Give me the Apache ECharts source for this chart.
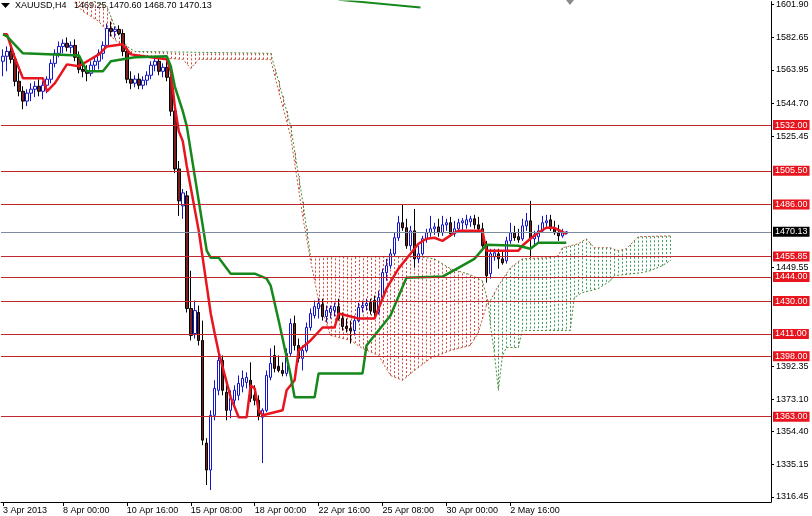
<!DOCTYPE html>
<html><head><meta charset="utf-8">
<script src="https://cdn.jsdelivr.net/npm/echarts@6.0.0/dist/echarts.min.js"></script>
<style>html,body{margin:0;padding:0;background:#fff}#c{width:812px;height:516px}</style>
</head><body><div id="c"></div>
<script>
// ---- data ----
const tickIndex = [0, 15, 31, 47, 63, 79, 95, 111, 127];
const tickText = ['3 Apr 2013','8 Apr 00:00','10 Apr 16:00','15 Apr 08:00','18 Apr 00:00','22 Apr 16:00','25 Apr 08:00','30 Apr 00:00','2 May 16:00'];
const priceTicks = [1601.90,1582.65,1563.95,1544.70,1525.45,1449.55,1392.35,1373.10,1354.40,1335.15,1316.45];
const levels = [1532.00,1505.50,1486.00,1455.85,1444.00,1430.00,1411.00,1398.00,1363.00];
const lastPrice = 1470.13;
const header = 'XAUUSD,H4   1469.25 1470.60 1468.70 1470.13';

// candles: [open, close, low, high], one per H4 bar starting 3 Apr 2013 12:00
const candles = [
[1569.0,1571.9,1560.3,1575.9],[1571.9,1574.7,1563.2,1577.6],[1574.7,1570.1,1567.8,1579.4],[1570.1,1557.4,1554.5,1573.6],
[1557.4,1551.6,1548.7,1563.2],[1551.6,1545.9,1541.2,1554.5],[1545.9,1550.5,1543.0,1552.8],[1550.5,1552.8,1545.9,1556.3],
[1552.8,1554.5,1548.2,1557.4],[1554.5,1551.6,1548.7,1558.6],[1551.6,1555.1,1547.0,1557.4],[1555.1,1558.6,1550.5,1560.3],
[1558.6,1567.8,1556.3,1570.1],[1567.8,1573.6,1565.5,1575.9],[1573.6,1577.6,1571.3,1580.5],[1577.6,1579.4,1573.6,1581.7],
[1579.4,1577.1,1574.7,1582.8],[1577.1,1578.2,1573.6,1580.5],[1578.2,1571.3,1569.0,1581.7],[1571.3,1564.3,1562.0,1574.7],
[1564.3,1563.2,1559.7,1567.8],[1563.2,1562.0,1557.4,1566.7],[1562.0,1566.7,1560.3,1569.0],[1566.7,1569.0,1563.2,1571.9],
[1569.0,1573.6,1564.3,1575.9],[1573.6,1578.2,1570.1,1580.5],[1578.2,1588.0,1577.1,1590.9],[1588.0,1586.3,1583.4,1592.1],
[1586.3,1587.5,1582.8,1589.2],[1587.5,1585.1,1584.0,1589.8],[1585.1,1574.7,1571.9,1587.5],[1574.7,1558.6,1556.3,1577.6],
[1558.6,1556.3,1552.8,1563.2],[1556.3,1558.6,1553.9,1560.9],[1558.6,1555.1,1552.8,1562.0],[1555.1,1558.0,1552.8,1560.3],
[1558.0,1560.9,1555.1,1563.2],[1560.9,1566.7,1558.6,1569.0],[1566.7,1569.0,1563.2,1571.3],[1569.0,1563.2,1560.9,1571.9],
[1563.2,1565.5,1559.7,1567.8],[1565.5,1559.7,1557.4,1569.0],[1559.7,1540.1,1537.2,1563.2],[1540.1,1506.6,1504.2,1545.9],
[1506.6,1488.1,1479.4,1511.2],[1485.2,1492.7,1477.7,1495.0],[1491.0,1425.7,1423.4,1493.8],[1425.7,1410.1,1407.2,1447.6],
[1411.2,1424.5,1408.3,1430.3],[1423.4,1407.2,1404.3,1427.4],[1407.2,1349.4,1346.5,1418.7],[1347.7,1332.1,1323.4,1350.6],
[1332.1,1363.8,1320.5,1366.7],[1363.8,1379.4,1360.9,1384.1],[1378.3,1395.6,1375.4,1401.4],[1395.6,1378.3,1375.4,1398.5],
[1377.1,1366.7,1360.9,1381.2],[1366.7,1373.7,1362.1,1378.3],[1372.5,1378.3,1369.6,1381.2],[1375.4,1382.3,1372.5,1386.9],
[1380.6,1385.2,1377.1,1389.8],[1382.9,1385.8,1379.4,1388.7],[1384.1,1373.7,1371.4,1394.5],[1375.4,1372.5,1369.6,1381.2],
[1372.5,1363.3,1360.9,1375.4],[1362.7,1366.7,1336.1,1367.9],[1366.7,1386.9,1365.6,1389.8],[1385.8,1393.9,1384.1,1402.6],
[1398.5,1391.0,1388.7,1404.3],[1392.2,1389.8,1388.7,1398.5],[1389.8,1388.1,1386.4,1394.5],[1388.1,1399.7,1386.4,1402.6],
[1399.7,1417.0,1397.9,1419.9],[1417.0,1404.3,1401.4,1421.6],[1404.3,1396.8,1394.5,1408.3],[1396.8,1401.4,1389.8,1404.3],
[1401.4,1414.7,1400.2,1417.6],[1414.7,1422.8,1412.9,1425.7],[1421.6,1426.8,1419.9,1430.3],[1425.7,1428.6,1419.9,1431.4],
[1428.0,1421.1,1418.7,1431.4],[1421.1,1424.5,1417.6,1427.4],[1423.4,1425.7,1419.9,1427.4],[1424.5,1426.8,1421.1,1429.1],
[1426.8,1419.9,1418.7,1431.4],[1419.9,1415.3,1412.9,1423.4],[1415.3,1414.1,1411.8,1419.9],[1414.1,1412.9,1405.4,1418.7],
[1412.9,1418.7,1410.1,1421.6],[1418.7,1426.3,1417.6,1429.1],[1426.3,1427.4,1423.4,1430.3],[1427.4,1428.6,1424.5,1431.4],
[1429.1,1424.5,1422.2,1431.4],[1430.3,1423.4,1421.1,1433.2],[1423.4,1432.0,1422.2,1436.1],[1432.0,1446.5,1430.3,1448.8],
[1446.5,1450.5,1441.8,1454.5],[1450.5,1457.4,1448.8,1460.3],[1457.4,1466.7,1455.7,1469.6],[1466.7,1475.4,1464.9,1479.4],
[1475.4,1472.5,1470.7,1486.3],[1472.5,1462.1,1460.3,1477.7],[1462.1,1470.7,1459.2,1473.6],[1470.7,1454.5,1449.3,1483.4],
[1454.5,1457.4,1452.2,1462.1],[1457.4,1466.1,1456.3,1467.8],[1466.1,1469.6,1463.8,1471.9],[1469.6,1471.9,1467.3,1479.4],
[1471.9,1473.0,1468.4,1475.4],[1473.0,1469.6,1467.3,1477.7],[1469.6,1474.2,1467.8,1479.4],[1474.2,1475.4,1470.7,1477.7],
[1475.4,1469.0,1467.3,1478.8],[1469.0,1471.9,1467.3,1476.5],[1471.9,1475.4,1469.6,1477.7],[1475.4,1476.5,1470.7,1478.2],
[1474.2,1477.1,1471.9,1480.0],[1475.9,1477.7,1473.0,1479.4],[1477.7,1474.2,1471.9,1480.0],[1474.2,1471.9,1470.7,1478.8],
[1471.9,1462.1,1460.9,1475.4],[1462.1,1444.7,1440.7,1464.9],[1445.9,1457.4,1443.0,1460.3],[1455.7,1458.0,1453.4,1460.3],
[1457.4,1454.5,1448.8,1460.3],[1454.5,1452.2,1451.1,1459.2],[1453.4,1464.9,1451.7,1467.3],[1464.9,1469.6,1463.2,1475.4],
[1469.6,1466.7,1464.9,1473.6],[1467.3,1465.5,1463.8,1471.9],[1466.1,1473.6,1464.9,1477.7],[1473.6,1476.5,1470.7,1481.1],
[1476.5,1466.1,1455.1,1488.1],[1466.1,1468.4,1462.1,1470.7],[1467.3,1470.7,1463.2,1474.2],[1470.7,1475.4,1469.6,1479.4],
[1475.4,1476.5,1473.0,1480.0],[1477.1,1471.9,1470.7,1480.0],[1471.9,1469.6,1468.4,1476.5],[1469.6,1467.8,1464.9,1474.2],
[1467.8,1469.6,1466.7,1471.9],[1469.25,1470.13,1468.70,1470.60]
];

// Ichimoku lines, read as [bar, price] break points
const tenkan = [[0,1584.6],[1,1584.6],[3,1570.7],[5,1559.1],[10,1559.1],[11,1551.6],[13,1556.3],[16,1567.2],[19,1566.1],[24,1573.0],[26,1577.6],[30,1578.8],[32,1573.0],[37,1571.3],[41,1570.1],[42,1563.2],[43,1543.0],[44,1528.5],[45,1522.7],[46,1508.3],[49,1470.7],[51,1439.0],[52,1422.8],[53,1411.2],[54,1400.2],[57,1374.2],[59,1362.7],[61,1362.7],[62,1381.2],[63,1379.4],[64,1366.7],[65,1363.8],[70,1366.7],[71,1378.3],[73,1384.1],[74,1401.4],[77,1407.2],[80,1414.7],[83,1414.7],[84,1422.8],[89,1419.9],[93,1419.9],[96,1437.2],[99,1448.8],[102,1457.4],[104,1463.2],[106,1466.1],[108,1466.7],[110,1464.9],[113,1469.6],[114,1470.7],[120,1470.7],[121,1459.2],[129,1459.2],[130,1462.1],[132,1466.1],[134,1469.6],[136,1472.5],[138,1472.5],[140,1470.1],[141,1469.0]];
const kijun = [[0,1584.6],[1,1583.4],[5,1573.6],[19,1572.4],[21,1563.2],[25,1563.2],[27,1569.0],[33,1571.3],[41,1571.9],[42,1566.1],[43,1554.5],[45,1540.1],[46,1531.4],[51,1459.2],[52,1455.1],[54,1455.1],[57,1445.9],[63,1445.9],[66,1443.0],[67,1439.0],[69,1418.7],[72,1387.0],[73,1374.2],[78,1374.2],[79,1388.1],[90,1388.1],[91,1404.3],[97,1421.6],[101,1443.6],[110,1444.2],[114,1449.3],[118,1454.5],[121,1462.6],[129,1462.1],[132,1460.3],[134,1463.8],[141,1463.8]];
const spanA = [[18,1603.0],[20,1597.9],[24,1592.1],[27,1583.4],[30,1577.6],[33,1571.9],[45,1570.1],[47,1564.9],[49,1570.1],[67,1570.1],[69,1551.6],[72,1525.6],[75,1479.4],[77,1453.4],[79,1430.3],[82,1410.1],[87,1407.2],[90,1402.6],[94,1398.5],[97,1386.9],[100,1384.1],[103,1389.8],[107,1396.8],[112,1401.4],[117,1404.3],[119,1411.8],[121,1427.4],[121.5,1429.0],[122,1430.3],[124,1439.0],[127,1449.3],[130,1454.5],[136,1455.1],[139,1456.3],[140,1460.9],[144,1463.2],[146,1466.1],[148,1460.9],[152,1460.9],[154,1459.2],[156,1460.3],[159,1467.3],[167,1467.8]];
const spanB = [[18,1612.0],[20,1606.5],[26,1600.7],[28,1589.2],[31,1577.6],[33,1574.7],[67,1573.6],[69,1557.4],[72,1531.4],[75,1488.1],[77,1455.7],[104,1455.7],[108,1454.5],[112,1448.8],[117,1445.3],[120,1441.8],[121.5,1429.0],[122,1415.9],[123,1400.0],[124,1378.3],[125,1398.0],[126,1403.1],[129,1403.1],[130,1413.0],[142,1413.0],[143,1432.0],[145,1434.9],[149,1437.2],[152,1441.8],[153,1444.7],[160,1446.5],[162,1447.6],[165,1450.5],[167,1453.4]];
const topGreen = [[84,1604.6],[104.5,1600.2]];

// ---- chart ----
const FONT = '"Liberation Sans", Arial, sans-serif';
const labelMap = {}; tickIndex.forEach((v,k)=>labelMap[v]=tickText[k]);
// value of a drawn polyline at bar x (used only to place the hatching between the two span lines)
function along(line, x){
  for (let k=1;k<line.length;k++){
    const p=line[k-1], q=line[k];
    if (x>=p[0] && x<=q[0]) return p[1]+(q[1]-p[1])*(x-p[0])/(q[0]-p[0]);
  }
  return null;
}
const candleData = candles.map((d,i)=>[i, d[0], d[1], d[2], d[3]]);
const hatchBars = []; for (let i=spanA[0][0]; i<=spanA[spanA.length-1][0]; i++) hatchBars.push([i]);
const chart = echarts.init(document.getElementById('c'));
const levelLines = levels.map(v=>({yAxis:v, lineStyle:{color:'#c0282d',width:1,type:'solid'},
  label:{backgroundColor:'#e8141e', color:'#fff'}}));
levelLines.push({yAxis:lastPrice, lineStyle:{color:'#7d8ca0',width:1,type:'solid'},
  label:{backgroundColor:'#000', color:'#fff'}});
chart.setOption({
  animation:false, backgroundColor:'#fff',
  grid:{left:0,right:41,top:0,bottom:14},
  xAxis:{type:'value',min:-0.5,max:192.25,splitLine:{show:false},
    axisLine:{show:true,onZero:false,lineStyle:{color:'#000',width:1}},
    axisTick:{show:true,customValues:tickIndex,length:4,lineStyle:{color:'#000'}},
    axisLabel:{customValues:tickIndex,formatter:v=>labelMap[v]||'',align:'left',
      fontSize:9,fontFamily:FONT,color:'#000',margin:4}},
  yAxis:{type:'value',position:'right',min:1313.56,max:1603.63,splitLine:{show:false},
    axisLine:{show:true,onZero:false,lineStyle:{color:'#000',width:1}},
    axisTick:{show:true,customValues:priceTicks,length:3,lineStyle:{color:'#000'}},
    axisLabel:{customValues:priceTicks,formatter:v=>v.toFixed(2),fontSize:9,fontFamily:FONT,color:'#000',margin:5}},
  graphic:[
    {type:'polygon',z:0,shape:{points:[[1,3],[10,3],[5.5,8]]},style:{fill:'#000'}},
    {type:'text',z:0,x:15,y:1,style:{text:header,font:'9px '+FONT,fill:'#000'}},
    {type:'polygon',z:0,shape:{points:[[566,0],[574,0],[570,5]]},style:{fill:'#8a8a8a'}}
  ],
  series:[
    {type:'custom',name:'cloud',z:1,clip:true,data:hatchBars,silent:true,encode:{x:0},
      renderItem:(params,api)=>{
        const i=api.value(0), a=along(spanA,i), b=along(spanB,i);
        if (a==null||b==null) return null;
        const p1=api.coord([i,a]), p2=api.coord([i,b]);
        const x=Math.round(p1[0])+0.5;
        return {type:'line',shape:{x1:x,y1:p1[1],x2:x,y2:p2[1]},
          style:{stroke:a<b?'#d24a40':'#3a9c5c',lineWidth:1,lineDash:[2,2]}};
      }},
    {type:'line',name:'spanA',z:2,data:spanA,symbol:'none',silent:true,lineStyle:{color:'#b65a3a',width:1,type:[2,2]}},
    {type:'line',name:'spanB',z:2,data:spanB,symbol:'none',silent:true,lineStyle:{color:'#4a8a3a',width:1,type:[2,2]}},
    {type:'candlestick',name:'XAUUSD',z:3,data:candleData,encode:{x:0,y:[1,2,3,4]},barWidth:3,
      itemStyle:{color:'#ffffff',color0:'#7a1e1e',borderColor:'#1414c8',borderColor0:'#000000',borderWidth:1},
      markLine:{silent:true,symbol:['none','none'],z:6,
        label:{position:'end',distance:2,fontSize:9,fontFamily:FONT,padding:[1,2,0,2],lineHeight:9,
          formatter:p=>Number(p.value).toFixed(2)},
        data:levelLines}},
    {type:'line',name:'tenkan',z:4,data:tenkan,symbol:'none',silent:true,lineStyle:{color:'#e8141e',width:2.5}},
    {type:'line',name:'kijun',z:4,data:kijun,symbol:'none',silent:true,lineStyle:{color:'#14881a',width:2.5}},
    {type:'line',name:'top',z:4,data:topGreen,symbol:'none',silent:true,lineStyle:{color:'#14881a',width:2}}
  ]
});
</script></body></html>
